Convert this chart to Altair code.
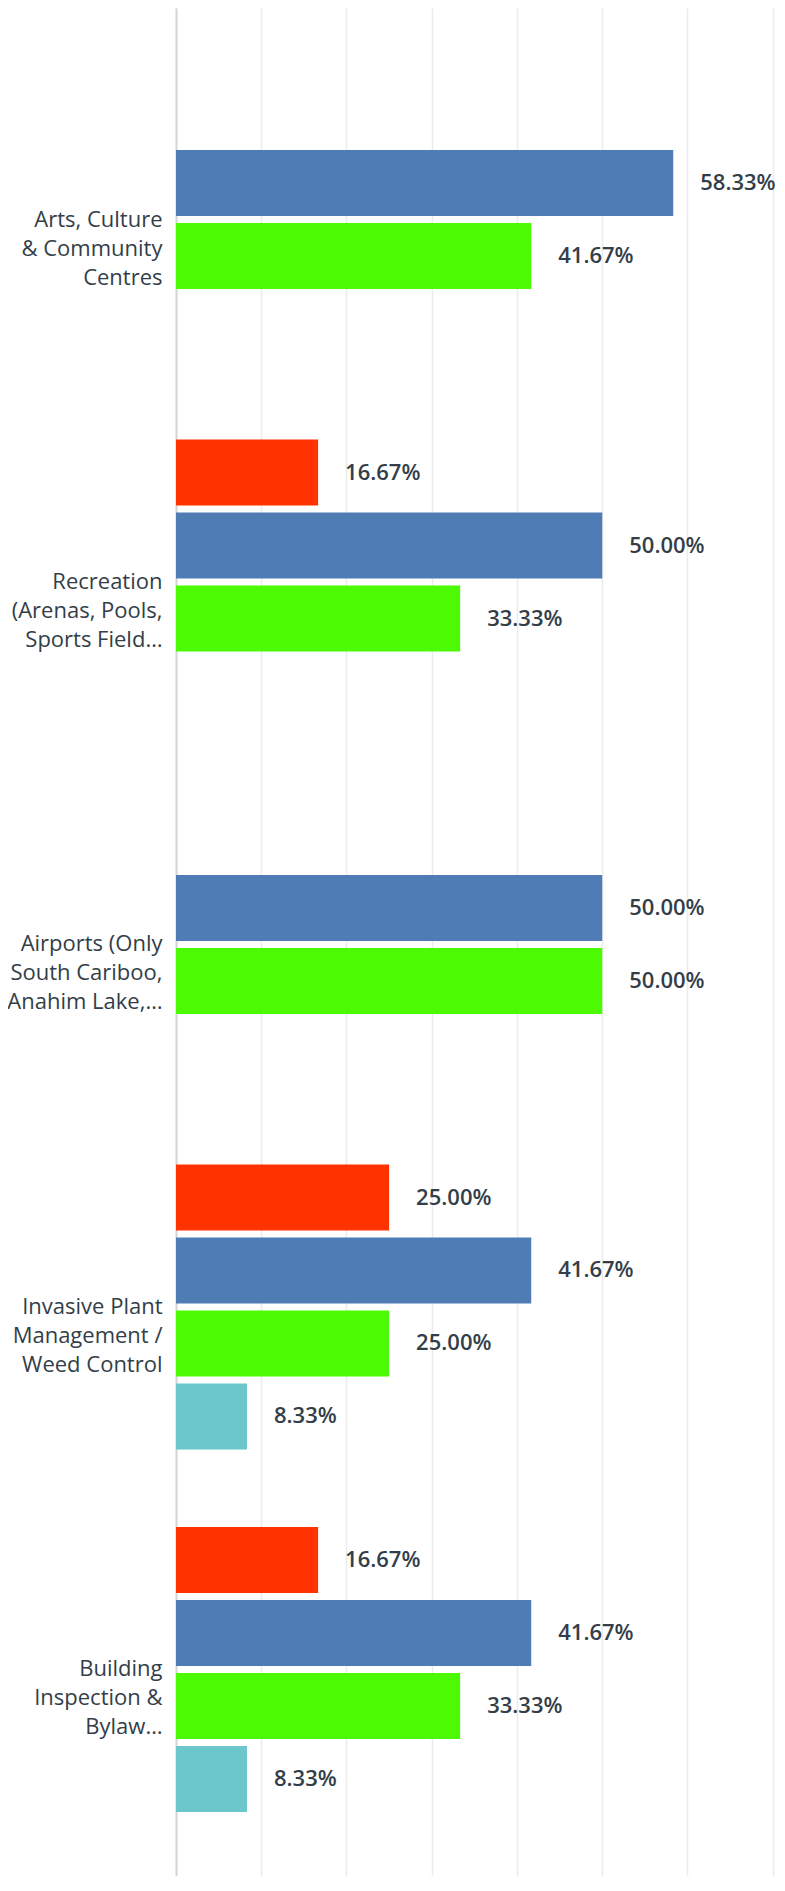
import altair as alt
import pandas as pd

categories = [
    "Arts, Culture|& Community|Centres",
    "Recreation|(Arenas, Pools,|Sports Field…",
    "Airports (Only|South Cariboo,|Anahim Lake,…",
    "Invasive Plant|Management /|Weed Control",
    "Building|Inspection &|Bylaw…",
]
series = ["Option 1", "Option 2", "Option 3", "Option 4"]
colors = ["#ff3300", "#4f7cb4", "#4cfb03", "#6cc7cc"]
option1 = [0, 16.67, 0, 25.00, 16.67]
option2 = [58.33, 50.00, 50.00, 41.67, 41.67]
option3 = [41.67, 33.33, 50.00, 25.00, 33.33]
option4 = [0, 0, 0, 8.33, 8.33]
x_ticks = [0, 10, 20, 30, 40, 50, 60, 70]

rows = []
for s, vals in zip(series, [option1, option2, option3, option4]):
    for c, v in zip(categories, vals):
        if v > 0:
            rows.append({"category": c, "series": s, "value": v})
df = pd.DataFrame(rows)

y_enc = alt.Y(
    "category:N",
    sort=categories,
    scale=alt.Scale(domain=categories, paddingInner=0, paddingOuter=0.0766, align=0.545),
    axis=alt.Axis(
        title=None,
        ticks=False,
        labelExpr="split(datum.label, '|')",
        labelFont="Open Sans",
        labelFontSize=22,
        labelColor="#333e48",
        labelLineHeight=29,
        labelPadding=14,
        labelLimit=0,
        labelAlign="right",
        labelBaseline="middle",
        domain=True,
        domainColor="#d5d5d5",
        domainWidth=2,
    ),
)
yoff_enc = alt.YOffset(
    "series:N",
    scale=alt.Scale(domain=series, paddingInner=0.0959, paddingOuter=0.531),
)
x_enc = alt.X(
    "value:Q",
    scale=alt.Scale(domain=[0, 70.5], nice=False, zero=True),
    axis=alt.Axis(
        title=None,
        values=x_ticks,
        labels=False,
        ticks=False,
        domain=False,
        grid=True,
        gridColor="#ebebeb",
        gridWidth=1.5,
    ),
)

base = alt.Chart(df)

bars = base.mark_bar().encode(
    x=x_enc,
    y=y_enc,
    yOffset=yoff_enc,
    color=alt.Color("series:N", scale=alt.Scale(domain=series, range=colors), legend=None),
)

text = base.transform_calculate(
    label="format(datum.value, '.2f') + '%'"
).mark_text(
    align="left",
    baseline="middle",
    dx=27,
    font="Open Sans",
    fontSize=22,
    fontWeight=600,
    color="#333e48",
).encode(
    x="value:Q",
    y=alt.Y("category:N", sort=categories),
    yOffset=alt.YOffset("series:N"),
    text="label:N",
)

chart = (
    alt.layer(bars, text)
    .properties(
        width=601,
        height=1868,
        autosize=alt.AutoSizeParams(type="none"),
        padding={"left": 168, "top": 0, "right": 0, "bottom": 0},
    )
    .configure_view(strokeWidth=0)
)

chart.save("out.html", embed_options={"renderer": "svg", "actions": False})
